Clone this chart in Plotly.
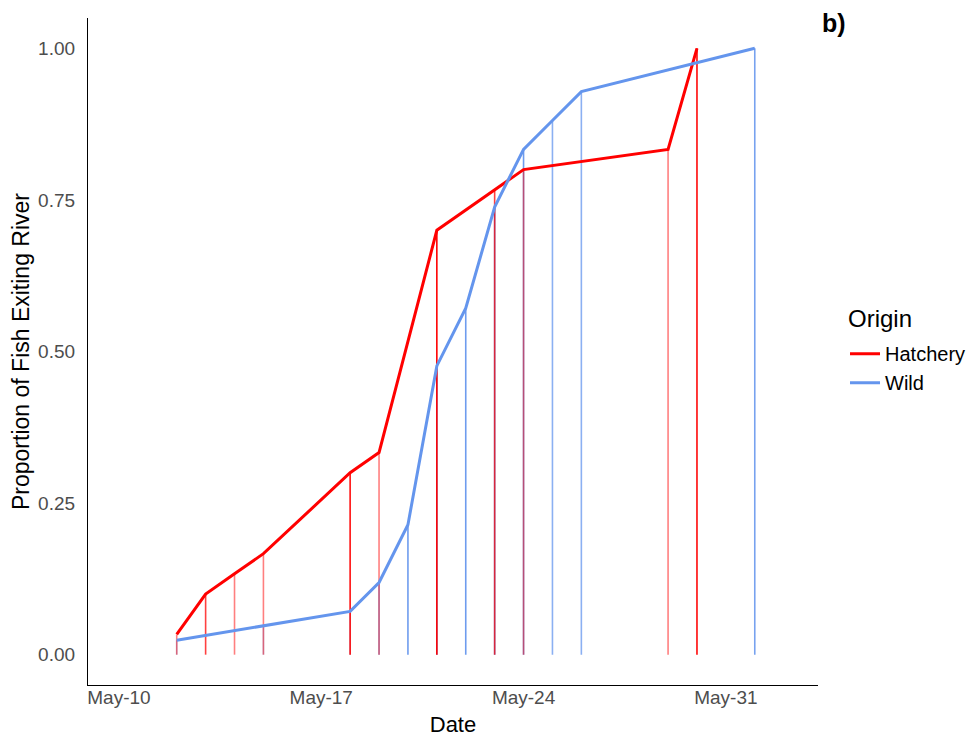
import plotly.graph_objects as go

# Hatchery exits
hatchery_dates = ["2019-05-12", "2019-05-13", "2019-05-14", "2019-05-15", "2019-05-18",
                  "2019-05-19", "2019-05-21", "2019-05-23", "2019-05-24", "2019-05-29", "2019-05-30"]
hatchery_counts = [1, 2, 1, 1, 4, 1, 11, 2, 1, 1, 5]

# Wild exits
wild_dates = ["2019-05-12", "2019-05-15", "2019-05-18", "2019-05-19", "2019-05-20", "2019-05-21",
              "2019-05-22", "2019-05-23", "2019-05-24", "2019-05-25", "2019-05-26", "2019-06-01"]
wild_counts = [1, 1, 1, 2, 4, 11, 4, 7, 4, 2, 2, 3]

x_tick_vals = ["2019-05-10", "2019-05-17", "2019-05-24", "2019-05-31"]
x_tick_text = ["May-10", "May-17", "May-24", "May-31"]
y_tick_vals = [0, 0.25, 0.5, 0.75, 1.0]


def cumprop(counts):
    tot = sum(counts)
    out, s = [], 0
    for c in counts:
        s += c
        out.append(s / tot)
    return out


hatch_prop = cumprop(hatchery_counts)
wild_prop = cumprop(wild_counts)

RED = (255, 0, 0)
BLUE = (100, 149, 237)

fig = go.Figure()

shapes = []
for dates, props, counts, col in [(wild_dates, wild_prop, wild_counts, BLUE),
                                  (hatchery_dates, hatch_prop, hatchery_counts, RED)]:
    for d, p, n in zip(dates, props, counts):
        a = 1 - (1 - 0.5) ** n
        shapes.append(dict(type="line", xref="x", yref="y", x0=d, x1=d, y0=0, y1=p,
                           layer="below",
                           line=dict(color=f"rgba({col[0]},{col[1]},{col[2]},{a:.3f})", width=1.6)))

fig.add_trace(go.Scatter(x=hatchery_dates, y=hatch_prop, mode="lines", name="Hatchery",
                         line=dict(color="rgb(255,0,0)", width=3)))
fig.add_trace(go.Scatter(x=wild_dates, y=wild_prop, mode="lines", name="Wild",
                         line=dict(color="rgb(100,149,237)", width=3)))

fig.update_layout(
    width=977, height=742,
    margin=dict(l=80, r=167, t=10, b=65),
    plot_bgcolor="white", paper_bgcolor="white",
    font=dict(family="Liberation Sans, Arial, sans-serif", color="black"),
    shapes=shapes,
    showlegend=True,
    legend=dict(
        font=dict(size=20, color="black"),
        x=1.037, xanchor="left", y=0.526, yanchor="top",
        itemwidth=30, tracegroupgap=0,
    ),
    annotations=[
        dict(text="<b>b)</b>", xref="paper", yref="paper", x=1.0, y=1.0,
             xanchor="left", yanchor="top", showarrow=False, xshift=2, yshift=11,
             font=dict(size=25, color="black")),
        dict(text="Origin", xref="paper", yref="paper", x=1.0, y=0.5,
             xanchor="left", yanchor="middle", showarrow=False,
             xshift=28, yshift=(351.5 - 318),
             font=dict(size=24, color="black")),
    ],
)

fig.update_xaxes(
    type="date",
    range=["2019-05-08 22:20", "2019-06-03 04:30"],
    tickvals=x_tick_vals, ticktext=x_tick_text,
    showgrid=False, zeroline=False, automargin=False,
    showline=True, linecolor="black", linewidth=1.3,
    ticks="", ticklabelstandoff=-5, tickfont=dict(size=19, color="#4D4D4D"),
    title=dict(text="Date", font=dict(size=22, color="black"), standoff=9),
)
fig.update_yaxes(
    range=[-0.05, 1.05],
    tickvals=y_tick_vals, tickformat=".2f",
    showgrid=False, zeroline=False, automargin=False,
    showline=True, linecolor="black", linewidth=1.3,
    ticks="", ticklabelstandoff=8, tickfont=dict(size=19, color="#4D4D4D"),
    title=dict(text="Proportion of Fish Exiting River", font=dict(size=23, color="black"), standoff=8),
)

fig.write_html("out.html")
